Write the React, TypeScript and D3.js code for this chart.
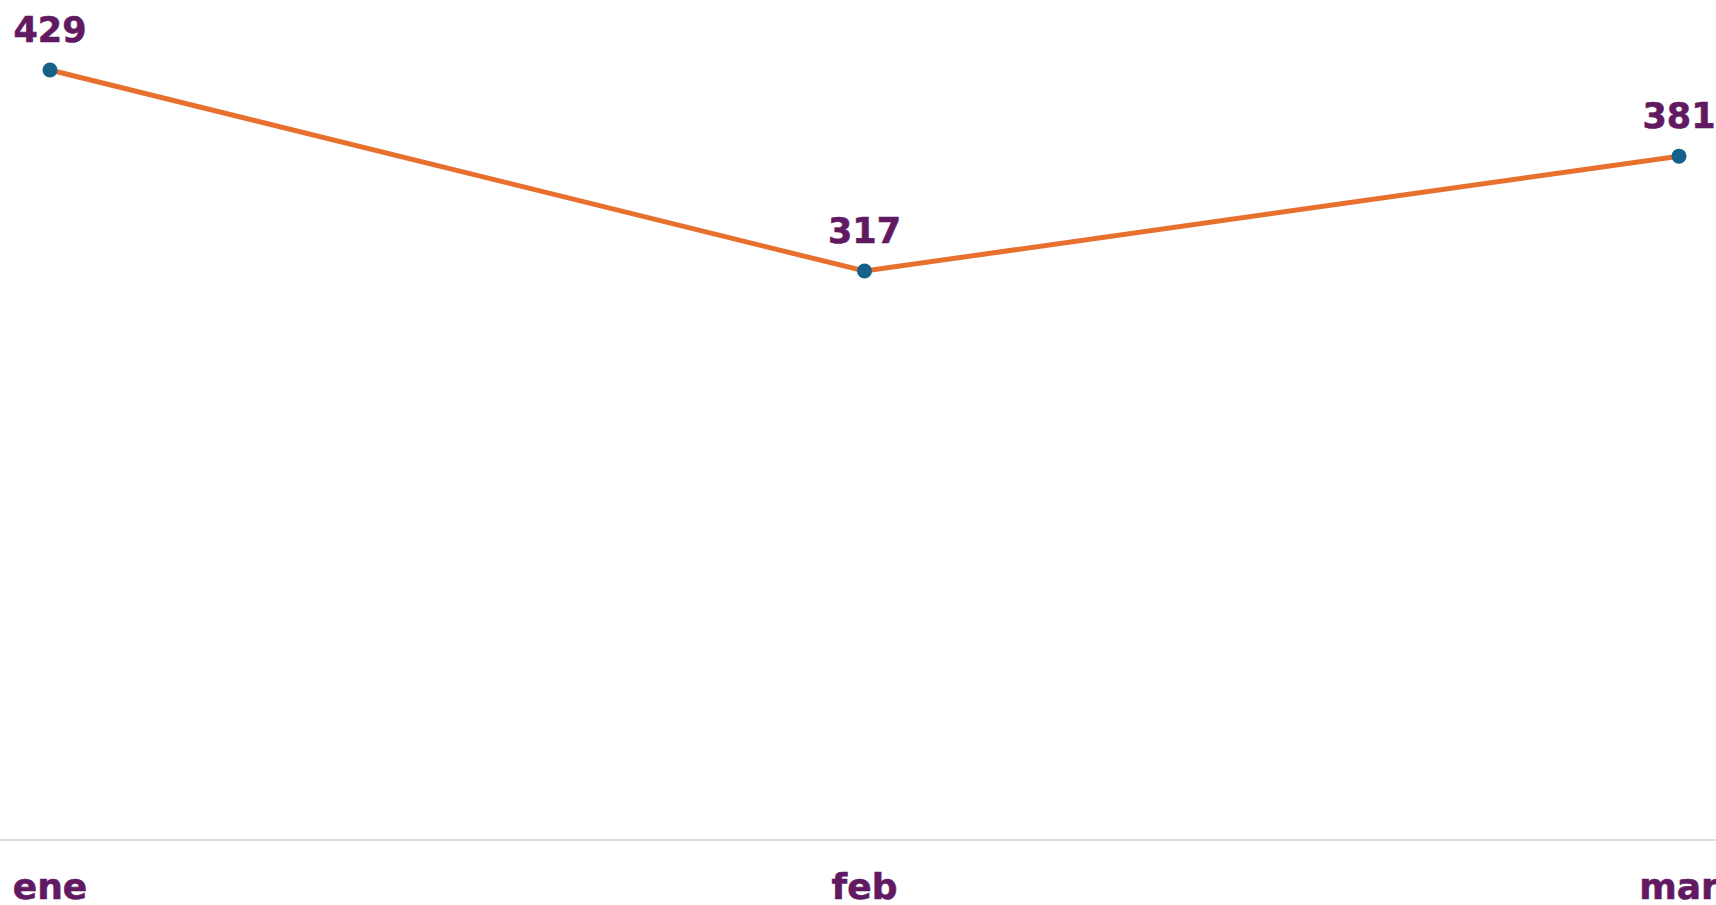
import React from "react";
import { scaleLinear, scalePoint, line } from "d3";

const months = ["ene", "feb", "mar"];
const values = [429, 317, 381];

const W = 1716;
const H = 905;
const purple = "#611a62";
const font = "'DejaVu Sans', sans-serif";

export default function App() {
  const x = scalePoint<string>().domain(months).range([50, 1679]);
  const y = scaleLinear().domain([0, 429]).range([840, 70]);

  const path = line<number>()
    .x((_, i) => x(months[i]) as number)
    .y(v => y(v))(values);

  return (
    <svg
      width={W}
      height={H}
      style={{ position: "absolute", left: 0, top: 0, display: "block" }}
    >
      <rect width={W} height={H} fill="#fff" />
      <line x1={0} x2={W} y1={y(0)} y2={y(0)} stroke="#dddddd" strokeWidth={2} />
      <path d={path || ""} fill="none" stroke="#e8702e" strokeWidth={5} />
      {values.map((v, i) => (
        <g key={months[i]}>
          <circle cx={x(months[i])} cy={y(v)} r={7.5} fill="#14618a" />
          <text
            x={x(months[i])}
            y={y(v) - 28}
            textAnchor="middle"
            fontFamily={font}
            fontWeight="bold"
            fontSize={35}
            stroke={purple}
            strokeWidth={0.6}
            fill={purple}
          >
            {v}
          </text>
        </g>
      ))}
      {months.map(m => (
        <text
          key={m}
          x={x(m)}
          y={899}
          textAnchor="middle"
          fontFamily={font}
          fontWeight="bold"
          fontSize={36}
          stroke={purple}
          strokeWidth={0.6}
          fill={purple}
        >
          {m}
        </text>
      ))}
    </svg>
  );
}
